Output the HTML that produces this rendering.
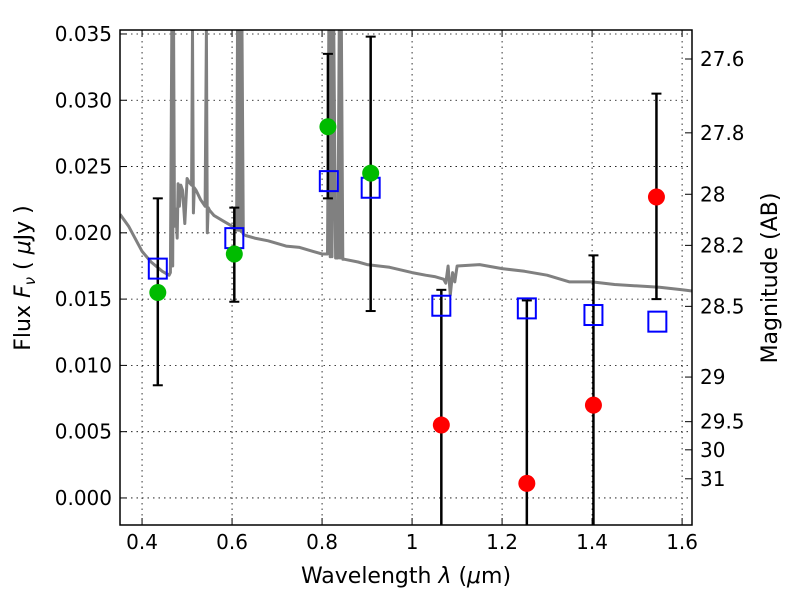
<!DOCTYPE html>
<html><head><meta charset="utf-8"><style>
html,body{margin:0;padding:0;background:#fff;width:800px;height:600px;overflow:hidden;}
svg{display:block;font-family:"DejaVu Sans","Liberation Sans",sans-serif;}
</style></head><body>
<svg id="chart" width="800" height="600" viewBox="0 0 800 600" xmlns="http://www.w3.org/2000/svg">
<defs><clipPath id="clip"><rect x="120" y="30" width="572" height="495"/></clipPath></defs>
<rect x="0" y="0" width="800" height="600" fill="#fff"/>
<g id="grid"></g>
<g id="plot" clip-path="url(#clip)"></g>
<rect x="120" y="30" width="572" height="495" fill="none" stroke="#000" stroke-width="1.5"/>
<g id="axes"></g>
<text x="406" y="583" font-size="22" text-anchor="middle">Wavelength  <tspan font-style="italic">λ</tspan> (<tspan font-style="italic">μ</tspan>m)</text>
<text transform="translate(30,278) rotate(-90)" font-size="22" text-anchor="middle">Flux  <tspan font-style="italic">F</tspan><tspan font-style="italic" font-size="15" dy="5">ν</tspan><tspan dy="-5">  ( </tspan><tspan font-style="italic">μ</tspan>Jy )</text>
<text transform="translate(777,278) rotate(-90)" font-size="22" text-anchor="middle">Magnitude (AB)</text>
</svg>
<script>
const xTicks=[0.4,0.6,0.8,1.0,1.2,1.4,1.6];
const xTickLabels=["0.4","0.6","0.8","1","1.2","1.4","1.6"];
const yTicks=[0,0.005,0.010,0.015,0.020,0.025,0.030,0.035];
const yTickLabels=["0.000","0.005","0.010","0.015","0.020","0.025","0.030","0.035"];
const magTicks=[27.6,27.8,28,28.2,28.5,29,29.5,30,31];
const magLabels=["27.6","27.8","28","28.2","28.5","29","29.5","30","31"];
const specWave=[0.351,0.37,0.40,0.42,0.445,0.46,0.463,0.466,0.468,0.470,0.472,0.475,0.478,0.48,0.483,0.486,0.49,0.495,0.50,0.505,0.51,0.512,0.514,0.516,0.52,0.53,0.54,0.543,0.545,0.547,0.55,0.56,0.58,0.60,0.61,0.612,0.615,0.618,0.62,0.622,0.625,0.63,0.65,0.68,0.72,0.75,0.78,0.80,0.812,0.815,0.818,0.82,0.822,0.826,0.83,0.835,0.838,0.84,0.843,0.846,0.85,0.88,0.9,0.95,1.0,1.03,1.05,1.07,1.075,1.08,1.085,1.09,1.095,1.10,1.15,1.2,1.25,1.3,1.35,1.4,1.45,1.5,1.55,1.6,1.625];
const specFlux=[0.0214,0.0205,0.0186,0.0178,0.0171,0.0168,0.0170,0.0352,0.0175,0.0352,0.0205,0.0218,0.0196,0.0237,0.0220,0.0236,0.0232,0.0207,0.0241,0.0238,0.0236,0.0352,0.0215,0.0234,0.0232,0.0225,0.0220,0.0352,0.0200,0.0219,0.0217,0.0213,0.0209,0.0205,0.0202,0.0352,0.0202,0.0352,0.0201,0.0352,0.0199,0.0198,0.0196,0.0194,0.0190,0.0189,0.0186,0.0184,0.0184,0.0352,0.0182,0.0352,0.0182,0.0352,0.0181,0.0181,0.0352,0.0181,0.0352,0.0180,0.0180,0.0178,0.0176,0.0174,0.0170,0.0168,0.0167,0.0165,0.0162,0.0175,0.0153,0.0170,0.0163,0.0175,0.0176,0.0173,0.0171,0.0168,0.0163,0.0163,0.0161,0.0160,0.0159,0.0157,0.0156];
const greenWave=[0.435,0.605,0.813,0.908];
const greenFlux=[0.0155,0.0184,0.0280,0.0245];
const greenLo=[0.0085,0.0148,0.0226,0.0141];
const greenHi=[0.0226,0.0219,0.0335,0.0348];
const redWave=[1.065,1.255,1.403,1.543];
const redFlux=[0.0055,0.0011,0.0070,0.0227];
const redLo=[-0.0021,-0.0021,-0.0021,0.0150];
const redHi=[0.0157,0.0149,0.0183,0.0305];
const modelWave=[0.435,0.605,0.815,0.908,1.065,1.255,1.403,1.545];
const modelFlux=[0.0173,0.0196,0.0239,0.0234,0.0145,0.0143,0.0138,0.0133];

const X0=120,X1=692,Y0=525,Y1=30,xmin=0.351,xmax=1.622,ymin=-0.00204,ymax=0.0353;
const sx=v=>X0+(v-xmin)/(xmax-xmin)*(X1-X0);
const sy=v=>Y0-(v-ymin)/(ymax-ymin)*(Y0-Y1);
const NS="http://www.w3.org/2000/svg";
function mk(tag,attrs,parent){const e=document.createElementNS(NS,tag);for(const k in attrs)e.setAttribute(k,attrs[k]);parent.appendChild(e);return e;}
const grid=document.getElementById('grid'),plot=document.getElementById('plot'),axes=document.getElementById('axes');

xTicks.forEach((t,i)=>{
  const x=sx(t);
  const g=mk('line',{x1:x,x2:x,y1:Y1,y2:Y0,stroke:'#000','stroke-width':0.8,'stroke-dasharray':'1.5,4'},grid);
  
  
  mk('line',{x1:x,x2:x,y1:Y0,y2:Y0-7,stroke:'#000'},axes);
  mk('line',{x1:x,x2:x,y1:Y1,y2:Y1+7,stroke:'#000'},axes);
  const tl=mk('text',{x:x,y:Y0+24,'font-size':20,'text-anchor':'middle'},axes);
  tl.textContent=xTickLabels[i];
  
  
});
yTicks.forEach((t,i)=>{
  const y=sy(t);
  const g=mk('line',{x1:X0,x2:X1,y1:y,y2:y,stroke:'#000','stroke-width':0.8,'stroke-dasharray':'1.5,4'},grid);
  
  
  mk('line',{x1:X0,x2:X0+7,y1:y,y2:y,stroke:'#000'},axes);
  const tl=mk('text',{x:X0-8,y:y+7,'font-size':20,'text-anchor':'end'},axes);
  tl.textContent=yTickLabels[i];
  
  
});
magTicks.forEach((m,i)=>{
  const f=Math.pow(10,(23.9-m)/2.5);
  const y=sy(f);
  mk('line',{x1:X1,x2:X1-7,y1:y,y2:y,stroke:'#000'},axes);
  const tl=mk('text',{x:X1+8,y:y+7,'font-size':20,'text-anchor':'start'},axes);
  tl.textContent=magLabels[i];
  
  
});

const pts=specWave.map((w,i)=>sx(w).toFixed(1)+','+sy(specFlux[i]).toFixed(1)).join(' ');
const sp=mk('polyline',{points:pts,fill:'none',stroke:'#808080','stroke-width':3,'stroke-linejoin':'round'},plot);



function errbar(w,lo,hi){
  const x=sx(w);
  const e=mk('line',{x1:x,x2:x,y1:sy(lo),y2:sy(hi),stroke:'#000','stroke-width':2.5},plot);
  
  
  [lo,hi].forEach(v=>{if(v>ymin)mk('line',{x1:x-5,x2:x+5,y1:sy(v),y2:sy(v),stroke:'#000','stroke-width':2},plot);});
}
greenWave.forEach((w,i)=>errbar(w,greenLo[i],greenHi[i]));
redWave.forEach((w,i)=>errbar(w,redLo[i],redHi[i]));
modelWave.forEach((w,i)=>{
  const r=mk('rect',{x:sx(w)-9,y:sy(modelFlux[i])-10,width:18,height:20,fill:'none',stroke:'#0000ff','stroke-width':2},plot);
  
  
});
greenWave.forEach((w,i)=>{
  const c=mk('circle',{cx:sx(w),cy:sy(greenFlux[i]),r:8.5,fill:'#00bb00'},plot);
  
  
});
redWave.forEach((w,i)=>{
  const c=mk('circle',{cx:sx(w),cy:sy(redFlux[i]),r:8.5,fill:'#ff0000'},plot);
  
  
});
</script>
</body></html>
